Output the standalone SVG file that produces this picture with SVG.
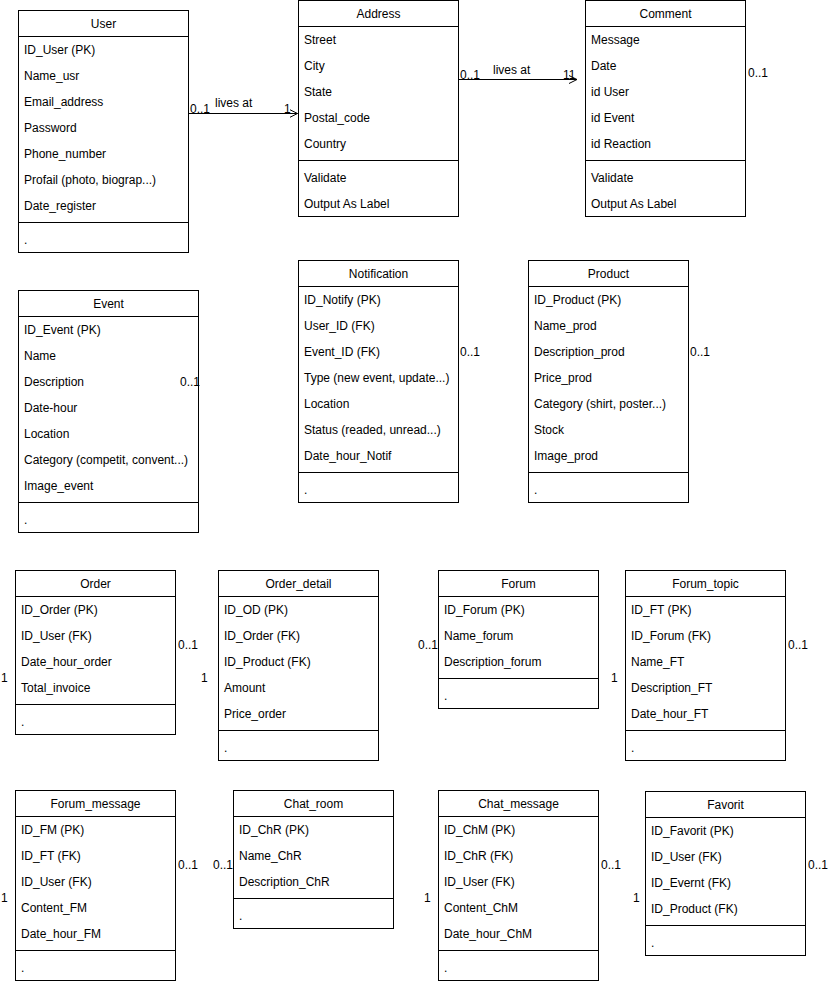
<svg xmlns="http://www.w3.org/2000/svg" width="828" height="984" viewBox="0 0 828 984">
<style>
text{font-family:"Liberation Sans",Arial,Helvetica,sans-serif;font-size:12px;fill:#000}
.h{text-anchor:middle}
.box{fill:#fff;stroke:#000;stroke-width:1}
.sep{stroke:#000;stroke-width:1}
.conn{stroke:#000;stroke-width:1;fill:none}
</style>
<defs>
<marker id="open" markerUnits="userSpaceOnUse" markerWidth="10" markerHeight="10" viewBox="0 0 10 10" refX="8" refY="4.5" orient="auto">
<path d="M0,0.5 L8,4.5 L0,8.5" fill="none" stroke="#000" stroke-width="1"/>
</marker>
</defs>
<rect width="828" height="984" fill="#fff"/>

<g id="User">
<rect class="box" x="18.5" y="10.5" width="170" height="242"/>
<line class="sep" x1="18.5" y1="36.5" x2="188.5" y2="36.5"/>
<line class="sep" x1="18.5" y1="222.5" x2="188.5" y2="222.5"/>
<text class="h" x="103.5" y="28">User</text>
<text x="24" y="54">ID_User (PK)</text>
<text x="24" y="80">Name_usr</text>
<text x="24" y="106">Email_address</text>
<text x="24" y="132">Password</text>
<text x="24" y="158">Phone_number</text>
<text x="24" y="184">Profail (photo, biograp...)</text>
<text x="24" y="210">Date_register</text>
<text x="24" y="244">.</text>
</g>

<g id="Address">
<rect class="box" x="298.5" y="0.5" width="160" height="216"/>
<line class="sep" x1="298.5" y1="26.5" x2="458.5" y2="26.5"/>
<line class="sep" x1="298.5" y1="160.5" x2="458.5" y2="160.5"/>
<text class="h" x="378.5" y="18">Address</text>
<text x="304" y="44">Street</text>
<text x="304" y="70">City</text>
<text x="304" y="96">State</text>
<text x="304" y="122">Postal_code</text>
<text x="304" y="148">Country</text>
<text x="304" y="182">Validate</text>
<text x="304" y="208">Output As Label</text>
</g>

<g id="Comment">
<rect class="box" x="585.5" y="0.5" width="160" height="216"/>
<line class="sep" x1="585.5" y1="26.5" x2="745.5" y2="26.5"/>
<line class="sep" x1="585.5" y1="160.5" x2="745.5" y2="160.5"/>
<text class="h" x="665.5" y="18">Comment</text>
<text x="591" y="44">Message</text>
<text x="591" y="70">Date</text>
<text x="591" y="96">id User</text>
<text x="591" y="122">id Event</text>
<text x="591" y="148">id Reaction</text>
<text x="591" y="182">Validate</text>
<text x="591" y="208">Output As Label</text>
</g>

<g id="Event">
<rect class="box" x="18.5" y="290.5" width="180" height="242"/>
<line class="sep" x1="18.5" y1="316.5" x2="198.5" y2="316.5"/>
<line class="sep" x1="18.5" y1="502.5" x2="198.5" y2="502.5"/>
<text class="h" x="108.5" y="308">Event</text>
<text x="24" y="334">ID_Event (PK)</text>
<text x="24" y="360">Name</text>
<text x="24" y="386">Description</text>
<text x="24" y="412">Date-hour</text>
<text x="24" y="438">Location</text>
<text x="24" y="464">Category (competit, convent...)</text>
<text x="24" y="490">Image_event</text>
<text x="24" y="524">.</text>
</g>

<g id="Notification">
<rect class="box" x="298.5" y="260.5" width="160" height="242"/>
<line class="sep" x1="298.5" y1="286.5" x2="458.5" y2="286.5"/>
<line class="sep" x1="298.5" y1="472.5" x2="458.5" y2="472.5"/>
<text class="h" x="378.5" y="278">Notification</text>
<text x="304" y="304">ID_Notify (PK)</text>
<text x="304" y="330">User_ID (FK)</text>
<text x="304" y="356">Event_ID (FK)</text>
<text x="304" y="382">Type (new event, update...)</text>
<text x="304" y="408">Location</text>
<text x="304" y="434">Status (readed, unread...)</text>
<text x="304" y="460">Date_hour_Notif</text>
<text x="304" y="494">.</text>
</g>

<g id="Product">
<rect class="box" x="528.5" y="260.5" width="160" height="242"/>
<line class="sep" x1="528.5" y1="286.5" x2="688.5" y2="286.5"/>
<line class="sep" x1="528.5" y1="472.5" x2="688.5" y2="472.5"/>
<text class="h" x="608.5" y="278">Product</text>
<text x="534" y="304">ID_Product (PK)</text>
<text x="534" y="330">Name_prod</text>
<text x="534" y="356">Description_prod</text>
<text x="534" y="382">Price_prod</text>
<text x="534" y="408">Category (shirt, poster...)</text>
<text x="534" y="434">Stock</text>
<text x="534" y="460">Image_prod</text>
<text x="534" y="494">.</text>
</g>

<g id="Order">
<rect class="box" x="15.5" y="570.5" width="160" height="164"/>
<line class="sep" x1="15.5" y1="596.5" x2="175.5" y2="596.5"/>
<line class="sep" x1="15.5" y1="704.5" x2="175.5" y2="704.5"/>
<text class="h" x="95.5" y="588">Order</text>
<text x="21" y="614">ID_Order (PK)</text>
<text x="21" y="640">ID_User (FK)</text>
<text x="21" y="666">Date_hour_order</text>
<text x="21" y="692">Total_invoice</text>
<text x="21" y="726">.</text>
</g>

<g id="Order_detail">
<rect class="box" x="218.5" y="570.5" width="160" height="190"/>
<line class="sep" x1="218.5" y1="596.5" x2="378.5" y2="596.5"/>
<line class="sep" x1="218.5" y1="730.5" x2="378.5" y2="730.5"/>
<text class="h" x="298.5" y="588">Order_detail</text>
<text x="224" y="614">ID_OD (PK)</text>
<text x="224" y="640">ID_Order (FK)</text>
<text x="224" y="666">ID_Product (FK)</text>
<text x="224" y="692">Amount</text>
<text x="224" y="718">Price_order</text>
<text x="224" y="752">.</text>
</g>

<g id="Forum">
<rect class="box" x="438.5" y="570.5" width="160" height="138"/>
<line class="sep" x1="438.5" y1="596.5" x2="598.5" y2="596.5"/>
<line class="sep" x1="438.5" y1="678.5" x2="598.5" y2="678.5"/>
<text class="h" x="518.5" y="588">Forum</text>
<text x="444" y="614">ID_Forum (PK)</text>
<text x="444" y="640">Name_forum</text>
<text x="444" y="666">Description_forum</text>
<text x="444" y="700">.</text>
</g>

<g id="Forum_topic">
<rect class="box" x="625.5" y="570.5" width="160" height="190"/>
<line class="sep" x1="625.5" y1="596.5" x2="785.5" y2="596.5"/>
<line class="sep" x1="625.5" y1="730.5" x2="785.5" y2="730.5"/>
<text class="h" x="705.5" y="588">Forum_topic</text>
<text x="631" y="614">ID_FT (PK)</text>
<text x="631" y="640">ID_Forum (FK)</text>
<text x="631" y="666">Name_FT</text>
<text x="631" y="692">Description_FT</text>
<text x="631" y="718">Date_hour_FT</text>
<text x="631" y="752">.</text>
</g>

<g id="Forum_message">
<rect class="box" x="15.5" y="790.5" width="160" height="190"/>
<line class="sep" x1="15.5" y1="816.5" x2="175.5" y2="816.5"/>
<line class="sep" x1="15.5" y1="950.5" x2="175.5" y2="950.5"/>
<text class="h" x="95.5" y="808">Forum_message</text>
<text x="21" y="834">ID_FM (PK)</text>
<text x="21" y="860">ID_FT (FK)</text>
<text x="21" y="886">ID_User (FK)</text>
<text x="21" y="912">Content_FM</text>
<text x="21" y="938">Date_hour_FM</text>
<text x="21" y="972">.</text>
</g>

<g id="Chat_room">
<rect class="box" x="233.5" y="790.5" width="160" height="138"/>
<line class="sep" x1="233.5" y1="816.5" x2="393.5" y2="816.5"/>
<line class="sep" x1="233.5" y1="898.5" x2="393.5" y2="898.5"/>
<text class="h" x="313.5" y="808">Chat_room</text>
<text x="239" y="834">ID_ChR (PK)</text>
<text x="239" y="860">Name_ChR</text>
<text x="239" y="886">Description_ChR</text>
<text x="239" y="920">.</text>
</g>

<g id="Chat_message">
<rect class="box" x="438.5" y="790.5" width="160" height="190"/>
<line class="sep" x1="438.5" y1="816.5" x2="598.5" y2="816.5"/>
<line class="sep" x1="438.5" y1="950.5" x2="598.5" y2="950.5"/>
<text class="h" x="518.5" y="808">Chat_message</text>
<text x="444" y="834">ID_ChM (PK)</text>
<text x="444" y="860">ID_ChR (FK)</text>
<text x="444" y="886">ID_User (FK)</text>
<text x="444" y="912">Content_ChM</text>
<text x="444" y="938">Date_hour_ChM</text>
<text x="444" y="972">.</text>
</g>

<g id="Favorit">
<rect class="box" x="645.5" y="791.5" width="160" height="164"/>
<line class="sep" x1="645.5" y1="817.5" x2="805.5" y2="817.5"/>
<line class="sep" x1="645.5" y1="925.5" x2="805.5" y2="925.5"/>
<text class="h" x="725.5" y="809">Favorit</text>
<text x="651" y="835">ID_Favorit (PK)</text>
<text x="651" y="861">ID_User (FK)</text>
<text x="651" y="887">ID_Evernt (FK)</text>
<text x="651" y="913">ID_Product (FK)</text>
<text x="651" y="947">.</text>
</g>

<g id="connectors">
<path class="conn" d="M188.5,113.5 H297.5" marker-end="url(#open)"/>
<text x="190" y="113">0..1</text>
<text x="215" y="107">lives at</text>
<text x="284" y="113">1</text>
<path class="conn" d="M458.5,79.5 H577" marker-end="url(#open)"/>
<text x="460" y="79">0..1</text>
<text x="493" y="74">lives at</text>
<text x="563" y="79">11</text>
</g>

<g id="multiplicities">
<text x="748" y="77">0..1</text>
<text x="180" y="386">0..1</text>
<text x="460" y="356">0..1</text>
<text x="690" y="356">0..1</text>
<text x="1" y="682">1</text>
<text x="178" y="649">0..1</text>
<text x="201" y="682">1</text>
<text x="418" y="649">0..1</text>
<text x="611" y="682">1</text>
<text x="788" y="649">0..1</text>
<text x="1" y="902">1</text>
<text x="178" y="869">0..1</text>
<text x="213" y="869">0..1</text>
<text x="424" y="902">1</text>
<text x="601" y="869">0..1</text>
<text x="633" y="902">1</text>
<text x="808" y="869">0..1</text>
</g>
</svg>
